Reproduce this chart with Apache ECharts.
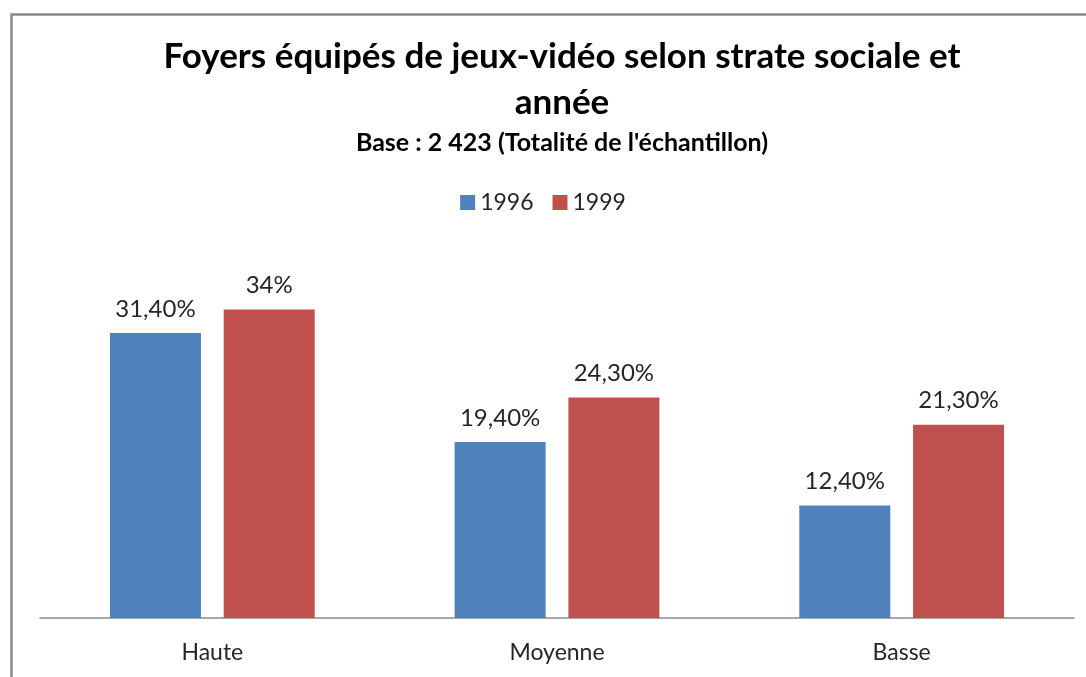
<!DOCTYPE html>
<html>
<head>
<meta charset="utf-8">
<script src="https://cdn.jsdelivr.net/npm/echarts@6/dist/echarts.min.js"></script>
<style>html,body{margin:0;padding:0;background:#fff}#c{width:1086px;height:677px}</style>
</head>
<body>
<div id="c"></div>
<script>
const categories = ['Haute', 'Moyenne', 'Basse'];
const values1996 = [31.4, 19.4, 12.4];
const values1999 = [34, 24.3, 21.3];
const labels1996 = ['31,40%', '19,40%', '12,40%'];
const labels1999 = ['34%', '24,30%', '21,30%'];
const seriesNames = ['1996', '1999'];

const FONT = 'Lato';
const chart = echarts.init(document.getElementById('c'));
const labelStyle = (texts) => ({
  show: true, position: 'top', distance: 12,
  fontFamily: FONT, fontSize: 24, color: '#262626',
  formatter: (p) => texts[p.dataIndex]
});
chart.setOption({
  animation: false,
  backgroundColor: '#fff',
  graphic: [{
    type: 'rect', left: 9, top: 12, shape: { width: 1200, height: 800 },
    style: { fill: 'none', stroke: '#8a8a8a', lineWidth: 2.5 }, silent: true, z: -1
  }],
  title: {
    text: 'Foyers équipés de jeux-vidéo selon strate sociale et\nannée',
    subtext: "Base : 2 423 (Totalité de l'échantillon)",
    left: 557, textAlign: 'center', top: 29, itemGap: 4,
    textStyle: { fontFamily: FONT, fontWeight: 'bold', fontSize: 35, lineHeight: 46, color: '#000' },
    subtextStyle: { fontFamily: FONT, fontWeight: 'bold', fontSize: 25, color: '#000' }
  },
  legend: {
    data: seriesNames, top: 186, left: 'center', itemWidth: 15, itemHeight: 15, itemGap: 19,
    icon: 'rect',
    textStyle: { fontFamily: FONT, fontSize: 23, color: '#262626', padding: [0, 0, 0, 0] }
  },
  grid: { left: 40, right: 12, top: 255, bottom: 59 },
  xAxis: {
    type: 'category', data: categories,
    axisLine: { lineStyle: { color: '#8a8a8a', width: 1.5 } },
    axisTick: { show: false },
    axisLabel: { fontFamily: FONT, fontSize: 23, color: '#262626', margin: 23 }
  },
  yAxis: { type: 'value', min: 0, max: 40, show: false, splitLine: { show: false } },
  series: [
    { name: seriesNames[0], type: 'bar', data: values1996, barWidth: 91, barGap: '25%',
      itemStyle: { color: '#4F81BD' }, label: labelStyle(labels1996) },
    { name: seriesNames[1], type: 'bar', data: values1999, barWidth: 91, barGap: '25%',
      itemStyle: { color: '#C0504D' }, label: labelStyle(labels1999) }
  ]
});
</script>
</body>
</html>
